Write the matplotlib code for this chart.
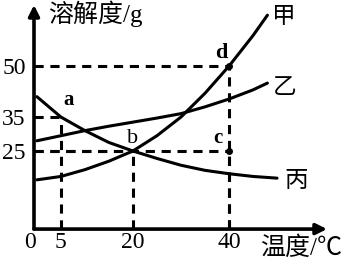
import numpy as np
import matplotlib
matplotlib.use('Agg')
import matplotlib.pyplot as plt
import matplotlib.transforms as mtransforms

# solubility curves (temperature in C, solubility in g)
t_jia = [0, 5, 10, 15, 20, 25, 30, 35, 40, 45, 48]
s_jia = [16.5, 17.5, 19.5, 22, 25, 29.5, 35, 42, 50, 59, 65]
t_yi = [0, 5, 10, 15, 20, 25, 30, 35, 40, 45, 48]
s_yi = [28, 29.5, 31, 32.3, 33.5, 34.7, 36, 38, 40.3, 43, 45]
t_bing = [0, 5, 10, 15, 20, 25, 30, 35, 40, 45, 50]
s_bing = [41, 35, 31, 27.5, 25, 22.8, 20.8, 19.3, 18.3, 17.5, 17]

# marked points
pt_names = ['a', 'b', 'c', 'd']
pt_t = [5, 20, 40, 40]
pt_s = [35, 25, 25, 50]

xticks = [5, 20, 40]
yticks = [25, 35, 50]

fonts = ['Liberation Serif', 'Noto Sans CJK SC']

fig = plt.figure(figsize=(3.56, 2.63), dpi=100)
ax = fig.add_axes([0.0955, 0.129, 0.823, 0.852])
ax.set_xlim(-0.6, 60.4)
ax.set_ylim(2, 68)

for s in ax.spines.values():
    s.set_visible(False)

# axes with arrow heads
ax.annotate('', xy=(1, 0), xytext=(0, 0), xycoords='axes fraction',
            arrowprops=dict(arrowstyle='-|>', lw=2.6, color='k',
                            mutation_scale=16, shrinkA=0, shrinkB=0))
ax.annotate('', xy=(0, 1), xytext=(0, 0), xycoords='axes fraction',
            arrowprops=dict(arrowstyle='-|>', lw=2.6, color='k',
                            mutation_scale=16, shrinkA=0, shrinkB=0))

# curves
ax.plot(t_jia, s_jia, '-k', lw=2.2, solid_capstyle='round')
ax.plot(t_yi, s_yi, '-k', lw=2.2, solid_capstyle='round')
ax.plot(t_bing, s_bing, '-k', lw=2.2, solid_capstyle='round')

# dashed guide lines
dash = dict(color='k', lw=2.2, dashes=(3, 2.2))
for t, s in zip(pt_t, pt_s):
    ax.plot([ax.get_xlim()[0], t], [s, s], **dash)
    ax.plot([t, t], [ax.get_ylim()[0], s], **dash)

ax.plot(pt_t[2:], pt_s[2:], 'ko', ms=4)

# point labels
ax.text(pt_t[0] + 1.6, pt_s[0] + 2.0, 'a', fontsize=15, fontweight='bold',
        family=fonts, ha='center', va='bottom')
ax.text(pt_t[1], pt_s[1] + 1.0, 'b', fontsize=16,
        family=fonts, ha='center', va='bottom')
ax.text(pt_t[2] - 2.4, pt_s[2] + 0.8, 'c', fontsize=15, fontweight='bold',
        family=fonts, ha='center', va='bottom')
ax.text(pt_t[3] - 1.6, pt_s[3] + 1.0, 'd', fontsize=16, fontweight='bold',
        family=fonts, ha='center', va='bottom')

# curve names
ax.text(51.5, 64.4, '甲', fontsize=17, family=fonts, ha='center', va='center')
ax.text(51.5, 43.5, '乙', fontsize=17, family=fonts, ha='center', va='center')
ax.text(54.0, 15.9, '丙', fontsize=17, family=fonts, ha='center', va='center')

# ticks
ax.set_xticks(xticks)
ax.set_xticklabels([str(v) for v in xticks], fontsize=17, family=fonts)
ax.set_yticks(yticks)
ax.set_yticklabels([str(v) for v in yticks], fontsize=17, family=fonts)
ax.tick_params(length=0, pad=2)
ax.tick_params(axis='y', pad=6)
trans = mtransforms.blended_transform_factory(ax.transData, ax.transAxes)
ax.text(-0.2, 0, '0', fontsize=17, family=fonts, ha='right', va='top',
        transform=trans + mtransforms.ScaledTranslation(0, -2 / 72, fig.dpi_scale_trans))

# axis titles
ax.text(2.3, 65.3, '溶解度/g', fontsize=18, family=fonts, ha='left',
        va='center', clip_on=False)
ax.text(46.5, -3.6, '温度/℃', fontsize=18, family=fonts, ha='left',
        va='center', clip_on=False)

fig.savefig('out.png', dpi=100)
